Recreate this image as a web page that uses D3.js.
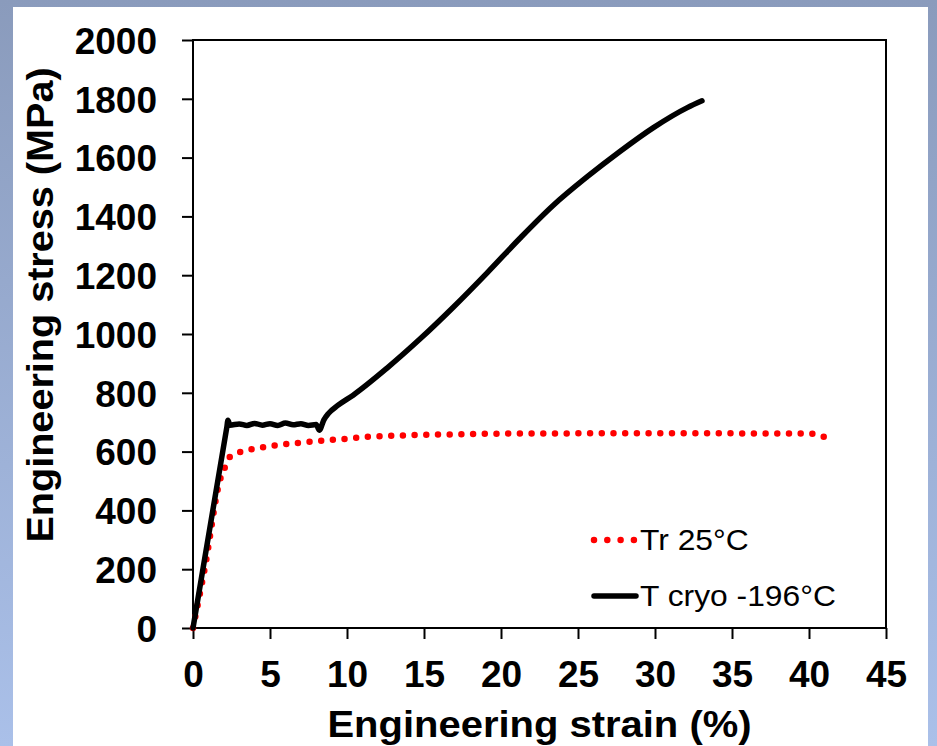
<!DOCTYPE html>
<html>
<head lang="en">
  <meta charset="UTF-8">
  <title>Engineering stress-strain</title>
  <script src="https://cdn.jsdelivr.net/npm/d3@7"></script>
</head>
<style>
  html, body { margin: 0; padding: 0; }
  body { width: 937px; height: 746px; overflow: hidden; }
  text { font-family: "Liberation Sans", Arial, sans-serif; fill: #000; }
  .tick text { font-weight: bold; font-size: 37px; }
  .title { font-weight: bold; font-size: 37px; }
  .legend text { font-size: 30px; }
</style>
<body>

<svg id="chart" width="937" height="746"></svg>

<script>
  // Tr 25°C (dotted red)
  var roomStrain = [0, 0.78, 1.75, 2.08, 2.27, 2.6, 3.05, 4, 5.2, 6.5, 8.2, 10, 11.3, 13, 15, 17.5, 20, 25, 30, 35, 40, 40.4, 41];
  var roomStress = [0, 208, 503, 548, 575, 588, 598, 610, 620, 628, 636, 644, 650, 654, 657, 659, 661, 662, 662, 662, 661, 659, 650];

  // T cryo -196°C (solid black)
  var cryoStrain = [0, 2.2, 2.27, 2.4, 3, 3.5, 4, 4.5, 5, 5.5, 6, 6.5, 7, 7.5, 8.0, 8.2, 8.5, 8.8, 9.4, 10.4, 12.6, 14.7, 16.9, 19.1, 21.2, 23.4, 25.6, 27.7, 29.9, 32.1, 33.05];
  var cryoStress = [0, 684, 707, 690, 694, 689, 696, 690, 695, 689, 697, 691, 695, 689, 692, 673, 708, 730, 757, 792, 884, 981, 1091, 1208, 1324, 1438, 1535, 1620, 1702, 1770, 1793];

  var xTicks = [0, 5, 10, 15, 20, 25, 30, 35, 40, 45];
  var yTicks = [0, 200, 400, 600, 800, 1000, 1200, 1400, 1600, 1800, 2000];

  var seriesNames = ['Tr 25°C', 'T cryo -196°C'];

  // plot box (note: "top" is taken by window.top)
  var plotL = 193, plotR = 886, plotT = 40, plotB = 628;

  var svg = d3.select('#chart');

  // backdrop: blue slide gradient with white panel
  var grad = svg.append('defs').append('linearGradient')
    .attr('id', 'bg').attr('x1', 0).attr('y1', 0).attr('x2', 0).attr('y2', 1);
  grad.append('stop').attr('offset', 0).attr('stop-color', '#8a9bbc');
  grad.append('stop').attr('offset', 1).attr('stop-color', '#aac0e9');
  svg.append('rect').attr('width', 937).attr('height', 746).attr('fill', 'url(#bg)');
  svg.append('rect').attr('x', 13).attr('y', 7).attr('width', 915).attr('height', 746).attr('fill', '#fff');

  var x = d3.scaleLinear().domain([0, 45]).range([plotL, plotR]);
  var y = d3.scaleLinear().domain([0, 2000]).range([plotB, plotT]);

  // stretch text a bit wider, like the source picture
  function stretch(sel, k) {
    sel.each(function () {
      var w = this.getComputedTextLength();
      d3.select(this).attr('textLength', w * k).attr('lengthAdjust', 'spacingAndGlyphs');
    });
  }

  var xAxis = svg.append('g')
    .attr('transform', 'translate(0,' + plotB + ')')
    .call(d3.axisBottom(x).tickValues(xTicks).tickSize(11).tickPadding(22).tickFormat(d3.format('d')));
  var yAxis = svg.append('g')
    .attr('transform', 'translate(' + plotL + ',0)')
    .call(d3.axisLeft(y).tickValues(yTicks).tickSize(11).tickPadding(25).tickFormat(d3.format('d')));

  [xAxis, yAxis].forEach(function (a) {
    a.select('.domain').remove();
    a.selectAll('.tick line').attr('stroke', '#000').attr('stroke-width', 2);
    a.attr('font-family', null).attr('font-size', null);
  });
  yAxis.selectAll('.tick text').attr('dy', '0.36em');

  // frame
  svg.append('rect')
    .attr('x', plotL).attr('y', plotT)
    .attr('width', plotR - plotL).attr('height', plotB - plotT)
    .attr('fill', 'none').attr('stroke', '#000').attr('stroke-width', 2);

  var line = d3.line()
    .x(function (d) { return x(d[0]); })
    .y(function (d) { return y(d[1]); })
    .curve(d3.curveMonotoneX);

  var room = d3.zip(roomStrain, roomStress);
  var cryo = d3.zip(cryoStrain, cryoStress);

  svg.append('path')
    .datum(room)
    .attr('d', line)
    .attr('fill', 'none')
    .attr('stroke', '#ff0000')
    .attr('stroke-width', 6.5)
    .attr('stroke-linecap', 'round')
    .attr('stroke-dasharray', '0 11.7');

  svg.append('path')
    .datum(cryo)
    .attr('d', line)
    .attr('fill', 'none')
    .attr('stroke', '#000')
    .attr('stroke-width', 5.5)
    .attr('stroke-linecap', 'round')
    .attr('stroke-linejoin', 'round');

  // axis titles
  var xt = svg.append('text').attr('class', 'title')
    .attr('x', (plotL + plotR) / 2).attr('y', 737)
    .attr('text-anchor', 'middle')
    .text('Engineering strain (%)');
  stretch(xt, 1.08);

  var yt = svg.append('text').attr('class', 'title')
    .attr('transform', 'translate(53,305) rotate(-90)')
    .attr('text-anchor', 'middle')
    .text('Engineering stress (MPa)');
  stretch(yt, 1.07);

  // legend
  var legend = svg.append('g').attr('class', 'legend');
  legend.append('line')
    .attr('x1', 594).attr('x2', 634).attr('y1', 540).attr('y2', 540)
    .attr('stroke', '#ff0000').attr('stroke-width', 6.5)
    .attr('stroke-linecap', 'round').attr('stroke-dasharray', '0 13.3');
  legend.append('line')
    .attr('x1', 594).attr('x2', 636).attr('y1', 596).attr('y2', 596)
    .attr('stroke', '#000').attr('stroke-width', 5.5)
    .attr('stroke-linecap', 'round');
  var lt = legend.selectAll('text.lab')
    .data(seriesNames)
    .enter().append('text')
    .attr('class', 'lab')
    .attr('x', 640)
    .attr('y', function (d, i) { return 550 + i * 56; })
    .text(function (d) { return d; });
  stretch(lt, 1.06);
</script>
</body>
</html>
